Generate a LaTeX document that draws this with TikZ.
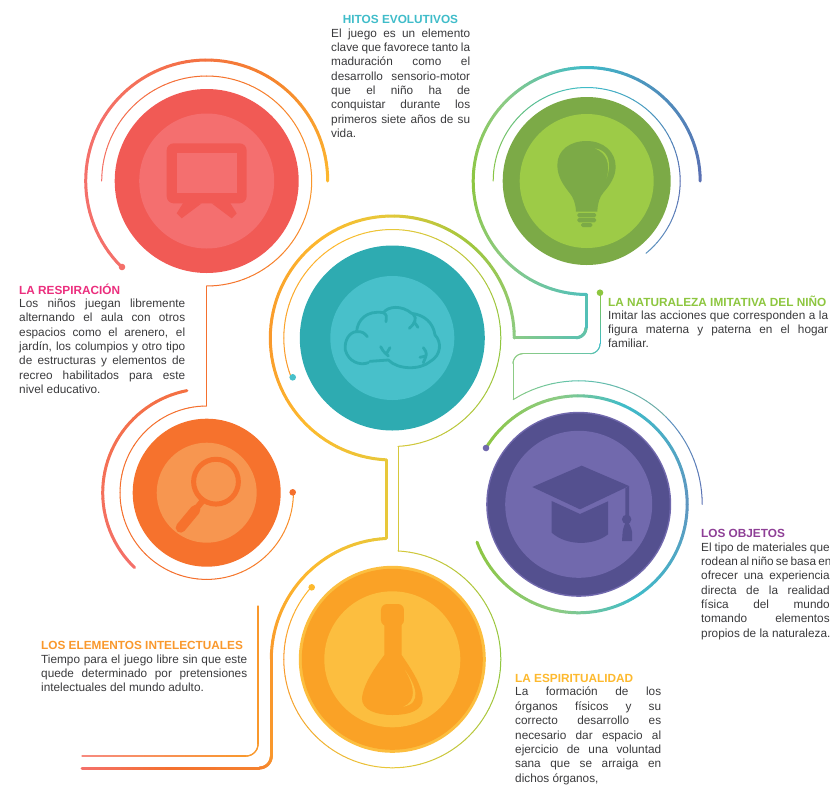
\documentclass[tikz,border=0pt]{standalone}
\usepackage{fontspec}
\setmainfont{Liberation Sans}
\definecolor{Ylw}{HTML}{FDB92E}
\definecolor{Org}{HTML}{F5822E}
\definecolor{Oge}{HTML}{F9982C}
\definecolor{Dor}{HTML}{F4702E}
\definecolor{Sal}{HTML}{F4706A}
\definecolor{Grn}{HTML}{8DC63F}
\definecolor{Tl}{HTML}{3FBCC9}
\definecolor{Blu}{HTML}{5A6FB3}
\definecolor{Mnt}{HTML}{8CCB85}
\definecolor{Yg}{HTML}{E8C83A}
\definecolor{SkyB}{HTML}{5F95C0}
\definecolor{Pnk}{HTML}{F78A80}
\definecolor{Vio}{HTML}{8E3F96}
\definecolor{RedD}{HTML}{F15A55}\definecolor{RedL}{HTML}{F46F6F}
\definecolor{GrD}{HTML}{7CAA47}\definecolor{GrL}{HTML}{9DCB47}
\definecolor{TeD}{HTML}{2EABB1}\definecolor{TeL}{HTML}{48C0CA}
\definecolor{PuD}{HTML}{54508F}\definecolor{PuL}{HTML}{7169AD}
\definecolor{OrD}{HTML}{F6722D}\definecolor{OrL}{HTML}{F79650}
\definecolor{YeD}{HTML}{FAA226}\definecolor{YeL}{HTML}{FCBE3F}
\definecolor{TextC}{HTML}{3A3A3C}
\newcommand\GA[8]{%
 \pgfmathtruncatemacro\nseg{max(4,abs(#5-#4)/3)}%
 \foreach \i in {1,...,\nseg}{%
  \pgfmathsetmacro\angA{#4+(#5-#4)*(\i-1)/\nseg}%
  \pgfmathsetmacro\angB{#4+(#5-#4)*\i/\nseg}%
  \pgfmathsetmacro\pct{100*(\i-.5)/\nseg}%
  \draw[line width=#8pt,line cap=round,color=#7!\pct!#6] ({#1+#3*cos(\angA)},{#2-#3*sin(\angA)}) -- ({#1+#3*cos(\angB)},{#2-#3*sin(\angB)});
 }}
\newcommand\GL[7]{%
 \foreach \i in {1,...,16}{%
  \pgfmathsetmacro\ta{(\i-1)/16}%
  \pgfmathsetmacro\tb{\i/16}%
  \pgfmathsetmacro\pct{100*(\i-.5)/16}%
  \draw[line width=#7pt,line cap=round,color=#6!\pct!#5] ({#1+(#3-#1)*\ta},{#2+(#4-#2)*\ta}) -- ({#1+(#3-#1)*\tb},{#2+(#4-#2)*\tb});
 }}
\newcommand\J[2][]{\makebox[\jw][s]{#2}}
\newlength\jw
\tikzset{
 disc/.style={circle,inner sep=0pt,outer sep=0pt,minimum size=#1},
 body/.style={anchor=north west,inner sep=0pt,align=left,text=TextC,font=\fontsize{11.8}{14.3}\selectfont},
 bodyl/.style={body,font=\fontsize{11.8}{14.4}\selectfont},
 head/.style={anchor=west,inner sep=0pt,font=\fontsize{11.8}{13}\selectfont\bfseries},
 dotn/.style={circle,inner sep=0pt,outer sep=0pt,minimum size=6.6pt}
}
\begin{document}
\begin{tikzpicture}[x=1pt,y=-1pt]
\useasboundingbox (0,0) rectangle (830,785);
% RED
\GA{206.7}{181}{121}{0}{60}{Ylw}{Org}{3}
\GA{206.7}{181}{121}{60}{100}{Org}{Dor!60!Sal}{3}
\GA{206.7}{181}{121}{100}{150}{Dor!60!Sal}{Sal}{3}
\GA{206.7}{181}{121}{150}{225}{Sal}{Sal}{3}
\GA{206.7}{181}{105}{180}{90}{Sal}{Dor}{1}
\GA{206.7}{181}{105}{90}{0}{Dor}{Oge}{1}
\GA{206.7}{181}{105}{0}{-90}{Oge}{Dor}{1}
\node[dotn,fill=Sal] (dr) at (122,267) {};
\node[disc=184pt,fill=RedD] (red) at (206.7,181) {};
\node[disc=135pt,fill=RedL] (redi) at (206.7,181) {};
\begin{scope}[shift={(90,50)},x=.33333pt,y=-.33333pt]
 \fill[RedD,rounded corners=7pt] (230,280) rectangle (470,460);
 \fill[RedL] (260,310) rectangle (441,430);
 \fill[RedD] (280,458)--(260,490)--(275,505)--(335,460)--cycle;
 \fill[RedD] (420,458)--(440,490)--(425,505)--(365,460)--cycle;
\end{scope}
% vertical red to orange
\GL{206.7}{286}{206.7}{405.7}{Dor}{Dor}{1}
% ORANGE
\GA{206.7}{492.7}{104}{101}{226}{Dor!70!Sal}{Sal}{3}
\GA{206.7}{492.7}{86.7}{90}{270}{Dor}{Dor}{1}
\GA{206.7}{492.7}{86.7}{270}{360}{Dor}{Oge}{1}
\node[dotn,fill=Dor] (do) at (292.7,492.3) {};
\node[disc=148pt,fill=OrD] (ora) at (206.7,492.7) {};
\node[disc=100pt,fill=OrL] (orai) at (206.7,492.7) {};
\begin{scope}[shift={(90,380)},x=.33333pt,y=-.33333pt]
 \draw[OrD,line width=5pt] (378,305) circle[radius=22.4pt];
 \draw[OrD,line width=10pt,line cap=round] (272,443)--(316,390);
 \draw[OrD,line width=6pt] (312,394)--(340,360);
\end{scope}
% CENTRAL
\GA{392.3}{338}{122}{0}{50}{Mnt}{Grn!80!Yg}{3}
\GA{392.3}{338}{122}{50}{95}{Grn!80!Yg}{Yg}{3}
\GA{392.3}{338}{122}{95}{125}{Yg}{Ylw}{3}
\GA{392.3}{338}{122}{125}{180}{Ylw}{Oge}{3}
\GA{392.3}{338}{122}{180}{225}{Oge}{Ylw}{3}
\GA{392.3}{338}{122}{225}{267}{Ylw}{Yg}{3}
\GL{386.7}{459.8}{386.7}{538}{Yg}{Yg}{3}
\GA{392.3}{338}{108.5}{201}{120}{Oge}{Ylw}{1}
\GA{392.3}{338}{108.5}{120}{90}{Ylw}{Yg}{1}
\GA{392.3}{338}{108.5}{90}{0}{Yg}{Grn}{1}
\GA{392.3}{338}{108.5}{0}{-87}{Grn}{Yg!80!Grn}{1}
\node[dotn,fill=TeL] (dc) at (292.7,377.3) {};
\node[disc=185pt,fill=TeD] (teal) at (392.3,338) {};
\node[disc=124pt,fill=TeL] (teali) at (392.3,338) {};
\begin{scope}[shift={(270,220)},x=.33333pt,y=-.33333pt,line width=2.8pt,line cap=round,line join=round]
 \draw[TeD] (295,428) .. controls (270,438) and (235,425) .. (226,390) .. controls (222,360) and (240,335) .. (260,335) .. controls (262,300) and (290,270) .. (340,278) .. controls (355,258) and (395,255) .. (425,280) .. controls (465,285) and (490,310) .. (495,345) .. controls (515,365) and (515,405) .. (480,425) .. controls (450,450) and (385,450) .. (355,420) -- (300,424);
 \draw[TeD] (260,335) .. controls (275,333) and (285,340) .. (292,350);
 \draw[TeD] (340,278) .. controls (350,285) .. (348,305);
 \draw[TeD] (430,283) .. controls (442,295) and (435,310) .. (418,325);
 \draw[TeD] (432,305) -- (444,322);
 \draw[TeD] (332,380) .. controls (338,392) .. (355,408);
 \draw[TeD] (360,383) -- (350,400);
 \draw[TeD] (460,383) .. controls (472,400) .. (460,428);
 \draw[TeD] (450,412) -- (468,408);
\end{scope}
% thick green
\GL{514}{337.7}{576}{337.7}{Mnt}{Tl!60!Mnt}{3}
\GA{576}{327.7}{10}{-90}{0}{Tl!60!Mnt}{Tl!80!Mnt}{3}
\GL{586}{327.7}{586}{294.5}{Tl!80!Mnt}{Tl!80!Mnt}{3}
\GA{586.7}{181}{113.5}{270}{225}{Tl!80!Mnt}{Mnt}{3}
\GA{586.7}{181}{113.5}{225}{180}{Mnt}{Grn}{3}
\GA{586.7}{181}{113.5}{180}{135}{Grn}{Mnt}{3}
\GA{586.7}{181}{113.5}{135}{90}{Mnt}{Tl}{3}
\GA{586.7}{181}{113.5}{90}{60}{Tl}{Tl!50!Blu}{3}
\GA{586.7}{181}{113.5}{60}{0}{Tl!50!Blu}{Blu}{3}
\GA{586.7}{181}{93.5}{180}{90}{Grn}{Tl}{1}
\GA{586.7}{181}{93.5}{90}{0}{Tl}{Blu}{1}
\GA{586.7}{181}{93.5}{0}{-50.6}{Blu}{SkyB}{1}
\node[disc=168pt,fill=GrD] (green) at (586.7,181) {};
\node[disc=134pt,fill=GrL] (greeni) at (586.7,181) {};
\begin{scope}[shift={(460,60)},x=.33333pt,y=-.33333pt]
 \fill[GrD] (380,243) .. controls (430,243) and (467,275) .. (467,320) .. controls (467,350) and (450,375) .. (430,398) .. controls (418,412) and (413,430) .. (412,455) -- (348,455) .. controls (347,430) and (340,412) .. (328,398) .. controls (310,375) and (292,350) .. (292,315) .. controls (292,270) and (330,243) .. (380,243) -- cycle;
 \fill[GrL] (405,265) .. controls (440,270) and (458,300) .. (440,355) .. controls (452,310) and (440,280) .. (405,265) -- cycle;
 \fill[GrD,rounded corners=1.5pt] (352,459) rectangle (408,472);
 \fill[GrD,rounded corners=1.5pt] (352,474) rectangle (408,487);
 \fill[GrD,rounded corners=1.5pt] (363,489) rectangle (397,501);
\end{scope}
% thin connector
\node[dotn,fill=Grn] (dg) at (600,292.7) {};
\GL{600}{293}{600}{343.7}{Grn}{Tl}{1}
\GA{590}{343.7}{10}{0}{-90}{Tl}{Tl!50!Mnt}{1}
\GL{590}{353.7}{523}{353.7}{Tl!50!Mnt}{Mnt}{1}
\GA{523}{363.7}{10}{90}{180}{Mnt}{Mnt}{1}
\GL{513}{363.7}{513}{399}{Mnt}{Mnt}{1}
% PURPLE
\GA{578.7}{504.3}{108.5}{149}{100}{Grn}{Mnt}{3}
\GA{578.7}{504.3}{108.5}{100}{65}{Mnt}{Tl}{3}
\GA{578.7}{504.3}{108.5}{65}{0}{Tl}{SkyB}{3}
\GA{578.7}{504.3}{108.5}{0}{-60}{SkyB}{Tl}{3}
\GA{578.7}{504.3}{108.5}{-60}{-100}{Tl}{Mnt}{3}
\GA{578.7}{504.3}{108.5}{-100}{-159.6}{Mnt}{Grn}{3}
\GA{578.7}{504.3}{123.5}{122}{90}{Mnt}{Tl!60!Mnt}{1}
\GA{578.7}{504.3}{123.5}{90}{45}{Tl!60!Mnt}{SkyB}{1}
\GA{578.7}{504.3}{123.5}{45}{0}{SkyB}{Blu}{1}
\node[dotn,fill=PuL] (dp) at (486,448) {};
\node[disc=185pt,fill=PuL] (pur) at (578.7,504.3) {};
\node[disc=182pt,fill=PuD] (puri) at (578.7,504.3) {};
\node[disc=147pt,fill=PuL] (purj) at (578.7,504.3) {};
\begin{scope}[shift={(470,340)},x=.33333pt,y=-.33333pt]
 \fill[PuD] (187,441)--(335,377)--(477,438)--(330,508)--cycle;
 \fill[PuD] (245,483)--(330,522)--(414,484)--(414,583) .. controls (370,618) and (290,618) .. (245,578) -- cycle;
 \fill[PuD] (466,445)--(477,438)--(477,530)--(466,530)--cycle;
 \fill[PuD] (470,538) circle[radius=4.7pt];
 \fill[PuD] (456,603)--(458,575) .. controls (460,562) and (464,555) .. (466,548) -- (476,548) .. controls (478,555) and (484,562) .. (486,575) -- (486,603) -- cycle;
\end{scope}
% YELLOW
\GA{392.3}{659.3}{121}{93}{135}{Yg}{Ylw}{3}
\GA{392.3}{659.3}{121}{135}{180}{Ylw}{Oge}{3}
\GL{271.3}{659.3}{271.3}{756}{Oge}{Oge}{3}
\GA{259.3}{756}{12}{0}{-90}{Oge}{Org}{3}
\GL{259.3}{768}{170}{768}{Org}{Dor}{3}
\GL{170}{768}{82}{768}{Dor}{Sal}{3}
\GL{398.3}{446.7}{398.3}{551}{Yg!80!Grn}{Yg}{1}
\GA{392.3}{659.3}{108.5}{87}{0}{Yg!80!Grn}{Grn}{1}
\GA{392.3}{659.3}{108.5}{0}{-90}{Grn}{Yg}{1}
\GA{392.3}{659.3}{108.5}{-90}{-180}{Yg}{Oge}{1}
\GA{392.3}{659.3}{108.5}{-180}{-222}{Oge}{Ylw}{1}
\node[dotn,fill=Ylw] (dy) at (311.7,587.3) {};
\GL{258}{606}{258}{744}{Oge}{Oge}{1.3}
\GA{246}{744}{12}{0}{-90}{Oge}{Oge}{1.3}
\GL{246}{756}{82}{756}{Oge}{Pnk}{1.3}
\node[disc=187pt,fill=YeL] (yel) at (392.3,659.3) {};
\node[disc=181pt,fill=YeD] (yeli) at (392.3,659.3) {};
\node[disc=136pt,fill=YeL] (yelj) at (392.3,659.3) {};
\begin{scope}[shift={(70,540)},x=.33333pt,y=-.33333pt]
 \fill[YeD,rounded corners=6pt] (933,192) rectangle (1002,258);
 \fill[YeD] (943,250) -- (995,250) -- (995,345) .. controls (1015,375) and (1055,430) .. (1058,475) .. controls (1060,510) and (1020,525) .. (967,525) .. controls (920,525) and (875,510) .. (876,475) .. controls (880,430) and (920,375) .. (943,345) -- cycle;
 \fill[YeL] (1005,390) .. controls (1040,440) and (1055,490) .. (1000,500) .. controls (1040,485) and (1035,440) .. (1005,390) -- cycle;
\end{scope}
% TEXTS
\node[head,text=Tl,anchor=center] (t1) at (400.5,19) {HITOS EVOLUTIVOS};
\setlength\jw{139pt}
\node[body] (b1) at (331,28.5) {\J{El juego es un elemento}\\\J{clave que favorece tanto la}\\\J{maduración como el}\\\J{desarrollo sensorio-motor}\\\J{que el niño ha de}\\\J{conquistar durante los}\\\J{primeros siete años de su}\\vida.};
\node[head,text=magenta!60!RedD] (t2) at (19,289) {LA RESPIRACIÓN};
\setlength\jw{166pt}
\node[bodyl] (b2) at (19,298.5) {\J{Los niños juegan libremente}\\\J{alternando el aula con otros}\\\J{espacios como el arenero, el}\\\J{jardín, los columpios y otro tipo}\\\J{de estructuras y elementos de}\\\J{recreo habilitados para este}\\nivel educativo.};
\node[head,text=Grn] (t3) at (608,301) {LA NATURALEZA IMITATIVA DEL NIÑO};
\setlength\jw{220pt}
\node[body] (b3) at (608,310.5) {\J{Imitar las acciones que corresponden a la}\\\J{figura materna y paterna en el hogar}\\familiar.};
\node[head,text=Vio] (t4) at (701,533) {LOS OBJETOS};
\setlength\jw{128.5pt}
\node[body] (b4) at (701,542.5) {\J{El tipo de materiales que}\\\J{rodean al niño se basa en}\\\J{ofrecer una experiencia}\\\J{directa de la realidad}\\\J{física del mundo}\\\J{tomando elementos}\\propios de la naturaleza.};
\node[head,text=Oge] (t5) at (41,645) {LOS ELEMENTOS INTELECTUALES};
\setlength\jw{206pt}
\node[body] (b5) at (41,654.5) {\J{Tiempo para el juego libre sin que este}\\\J{quede determinado por pretensiones}\\intelectuales del mundo adulto.};
\node[head,text=Ylw] (t6) at (515,678) {LA ESPIRITUALIDAD};
\setlength\jw{146pt}
\node[bodyl] (b6) at (515,687) {\J{La formación de los}\\\J{órganos físicos y su}\\\J{correcto desarrollo es}\\\J{necesario dar espacio al}\\\J{ejercicio de una voluntad}\\\J{sana que se arraiga en}\\dichos órganos,};
\end{tikzpicture}
\end{document}
